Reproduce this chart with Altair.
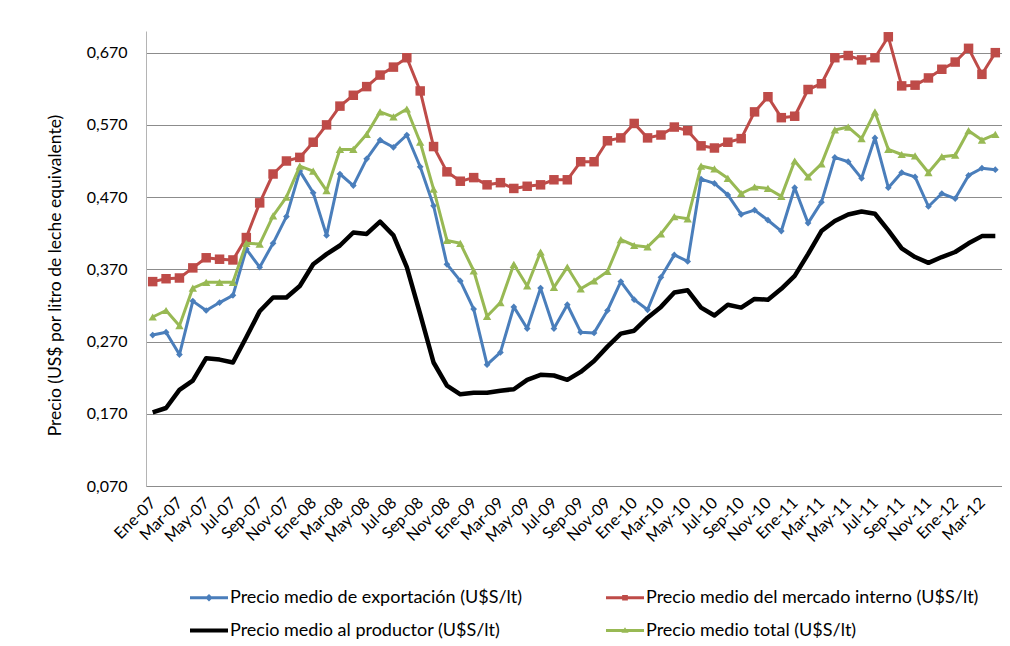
import altair as alt
import pandas as pd

MESES = ["Ene", "Feb", "Mar", "Abr", "May", "Jun", "Jul", "Ago", "Sep", "Oct", "Nov", "Dic"]
ANIOS = ["07", "08", "09", "10", "11", "12"]
meses = [f"{m}-{a}" for a in ANIOS for m in MESES][:64]

exportacion = [
    0.279, 0.283, 0.252, 0.326, 0.313, 0.324, 0.334, 0.398, 0.373, 0.406,
    0.443, 0.506, 0.476, 0.417, 0.502, 0.486, 0.523, 0.549, 0.539, 0.556,
    0.512, 0.458, 0.377, 0.354, 0.315, 0.238, 0.255, 0.318, 0.288, 0.344,
    0.288, 0.321, 0.283, 0.282, 0.313, 0.353, 0.328, 0.314, 0.359, 0.390,
    0.381, 0.495, 0.489, 0.473, 0.446, 0.452, 0.438, 0.423, 0.483, 0.434,
    0.463, 0.525, 0.519, 0.496, 0.552, 0.483, 0.504, 0.498, 0.457, 0.475,
    0.468, 0.500, 0.510, 0.508,
]
interno = [
    0.353, 0.357, 0.358, 0.372, 0.386, 0.384, 0.383, 0.414, 0.462, 0.502,
    0.520, 0.525, 0.546, 0.570, 0.596, 0.611, 0.623, 0.639, 0.650, 0.663,
    0.617, 0.540, 0.505, 0.492, 0.497, 0.487, 0.490, 0.482, 0.485, 0.487,
    0.494, 0.494, 0.519, 0.519, 0.548, 0.552, 0.572, 0.552, 0.556, 0.567,
    0.562, 0.541, 0.538, 0.546, 0.551, 0.588, 0.609, 0.580, 0.582, 0.619,
    0.627, 0.663, 0.666, 0.660, 0.663, 0.692, 0.624, 0.625, 0.635, 0.647,
    0.657, 0.676, 0.640, 0.670,
]
productor = [
    0.172, 0.178, 0.203, 0.216, 0.247, 0.245, 0.241, 0.276, 0.312, 0.331,
    0.331, 0.347, 0.377, 0.391, 0.403, 0.421, 0.419, 0.436, 0.417, 0.373,
    0.308, 0.241, 0.209, 0.197, 0.199, 0.199, 0.202, 0.204, 0.217, 0.224,
    0.223, 0.217, 0.228, 0.243, 0.263, 0.281, 0.285, 0.303, 0.318, 0.338,
    0.341, 0.317, 0.306, 0.321, 0.317, 0.329, 0.328, 0.343, 0.361, 0.391,
    0.423, 0.437, 0.446, 0.450, 0.447, 0.424, 0.399, 0.387, 0.379, 0.387,
    0.394, 0.406, 0.416, 0.416,
]
total = [
    0.304, 0.313, 0.292, 0.344, 0.352, 0.352, 0.352, 0.406, 0.405, 0.444,
    0.470, 0.513, 0.506, 0.479, 0.536, 0.536, 0.557, 0.588, 0.581, 0.592,
    0.546, 0.481, 0.410, 0.406, 0.368, 0.305, 0.324, 0.377, 0.347, 0.394,
    0.345, 0.373, 0.343, 0.354, 0.367, 0.411, 0.403, 0.401, 0.419, 0.443,
    0.440, 0.513, 0.509, 0.496, 0.475, 0.484, 0.482, 0.471, 0.520, 0.498,
    0.516, 0.563, 0.567, 0.551, 0.588, 0.536, 0.529, 0.527, 0.504, 0.526,
    0.528, 0.562, 0.549, 0.557,
]

series_names = [
    "Precio medio de exportación (U$S/lt)",
    "Precio medio del mercado interno (U$S/lt)",
    "Precio medio al productor (U$S/lt)",
    "Precio medio total (U$S/lt)",
]
series_values = [exportacion, interno, productor, total]
colors = ["#4A7EBB", "#BE4B48", "#000000", "#98B954"]
line_widths = [3, 3, 4.5, 3]
marker_shapes = ["diamond", "square", None, "triangle-up"]
marker_sizes = [45, 90, 0, 70]
y_ticks = [0.07, 0.17, 0.27, 0.37, 0.47, 0.57, 0.67]
x_labels = meses[::2]

legend_paths = [
    "M-2,-0.16H2V0.16H-2Z M0,-0.4L0.4,0L0,0.4L-0.4,0Z",
    "M-2,-0.16H2V0.16H-2Z M-0.3,-0.3H0.3V0.3H-0.3Z",
    "M-2,-0.22H2V0.22H-2Z",
    "M-2,-0.16H2V0.16H-2Z M0,-0.34L0.38,0.24L-0.38,0.24Z",
]

rows = []
for name, vals in zip(series_names, series_values):
    for m, v in zip(meses, vals):
        rows.append({"mes": m, "serie": name, "valor": v})
df = pd.DataFrame(rows)

FONT = "Lato"

x_enc = alt.X(
    "mes:N",
    sort=meses,
    scale=alt.Scale(type="point", domain=meses, padding=0.5),
    axis=alt.Axis(
        values=x_labels, title=None, labelAngle=315, labelAlign="right",
        labelBaseline="middle", labelPadding=14, ticks=False, grid=False,
        domainColor="#8c8c8c", labelFont=FONT, labelFontSize=16,
        labelColor="#000000", labelOverlap=False,
    ),
)
y_enc = alt.Y(
    "valor:Q",
    scale=alt.Scale(domain=[0.07, 0.70], nice=False, zero=False),
    axis=alt.Axis(
        values=y_ticks,
        labelExpr="replace(format(datum.value, '.3f'), '.', ',')",
        title="Precio (US$ por litro de leche equivalente)",
        ticks=False, grid=True, gridColor="#8c8c8c", gridWidth=1,
        domainColor="#b4b4b4", labelFont=FONT, labelFontSize=16,
        labelColor="#000000", labelPadding=19,
        titleFont=FONT, titleFontSize=17.5, titleFontWeight="normal",
        titleColor="#000000", titleX=-91, titleY=244,
        titleAlign="center", titleBaseline="middle", titleAngle=270,
    ),
)

base = alt.Chart(df)
layers = []
for name, col, lw, shp, sz in zip(series_names, colors, line_widths, marker_shapes, marker_sizes):
    sub = base.transform_filter(alt.datum.serie == name)
    layers.append(
        sub.mark_line(strokeWidth=lw, strokeJoin="round", color=col).encode(x=x_enc, y=y_enc)
    )
    if shp is not None:
        layers.append(
            sub.mark_point(filled=True, shape=shp, size=sz, opacity=1, color=col).encode(x=x_enc, y=y_enc)
        )

leg = alt.Legend(
    title=None, orient="none", legendX=53.5, legendY=557, columns=2,
    direction="horizontal",
    symbolSize=361, symbolStrokeWidth=0, symbolOpacity=1,
    labelFont=FONT, labelFontSize=18, labelColor="#000000",
    labelOffset=11.5, columnPadding=83, rowPadding=14, labelLimit=0,
)
legend_layer = base.transform_filter("false").mark_point(filled=True, opacity=1).encode(
    x=x_enc, y=y_enc,
    color=alt.Color("serie:N", scale=alt.Scale(domain=series_names, range=colors), legend=leg),
    shape=alt.Shape("serie:N", scale=alt.Scale(domain=series_names, range=legend_paths), legend=leg),
)
layers.append(legend_layer)

chart = alt.layer(*layers).properties(
    width=856, height=455,
    padding={"left": 138, "top": 23, "right": 0, "bottom": 158},
    autosize=alt.AutoSizeParams(type="none"),
    background="#ffffff",
).configure_view(stroke=None)

chart.save("out.html", embed_options={"renderer": "svg", "actions": False})
